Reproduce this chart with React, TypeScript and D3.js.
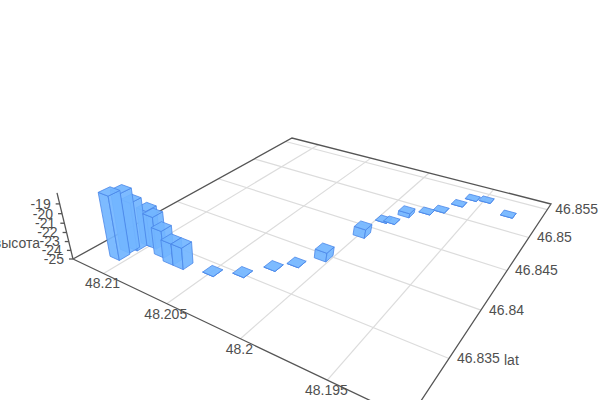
import React, { useEffect, useRef } from "react";
import * as d3 from "d3";

const barLon = [48.2107, 48.2108, 48.2106, 48.2103, 48.2098, 48.2087, 48.2077, 48.2069, 48.2050, 48.2035, 48.2024, 48.2015, 48.2005, 48.1999, 48.1996, 48.1991, 48.1987, 48.1977, 48.1970, 48.1963, 48.1958, 48.1949, 48.1930];
const barLat = [46.8321, 46.8331, 46.8336, 46.8345, 46.8345, 46.8340, 46.8337, 46.8337, 46.8342, 46.8352, 46.8369, 46.8381, 46.8397, 46.8438, 46.8466, 46.8468, 46.8483, 46.8496, 46.8505, 46.8522, 46.8537, 46.8540, 46.8526];
const barHeight = [-18.1, -18.5, -19.7, -21.0, -21.4, -22.0, -22.6, -22.6, -25, -25, -25, -25, -24, -24, -25, -25, -24.5, -25, -25, -25, -25, -25, -25];

const lonTicks = [48.21, 48.205, 48.2, 48.195];
const latTicks = [46.855, 46.85, 46.845, 46.84, 46.835];
const heightTicks = [-19, -20, -21, -22, -23, -24, -25];

const FONT = "'Liberation Sans', Arial, sans-serif";
const TEXT_COLOR = "#4f4f4f";

// floor corners on screen
const O = [73, 259];
const F = [409, 419];
const R = [551, 204];
const B = [292, 138];
// vertical vanishing point and its weight, so the height axis ends at (57,193)
const VP = [240, 950];
const K = -0.0874;

const sx = O[0] - F[0] + R[0] - B[0];
const sy = O[1] - F[1] + R[1] - B[1];
const dx1 = F[0] - R[0];
const dx2 = B[0] - R[0];
const dy1 = F[1] - R[1];
const dy2 = B[1] - R[1];
const det = dx1 * dy2 - dx2 * dy1;
const g = (sx * dy2 - dx2 * sy) / det;
const h = (dx1 * sy - sx * dy1) / det;
const a = F[0] - O[0] + g * F[0];
const b = B[0] - O[0] + h * B[0];
const d = F[1] - O[1] + g * F[1];
const e = B[1] - O[1] + h * B[1];

const lonScale = d3.scaleLinear().domain([48.2127, 48.191]).range([0, 1]);
const latScale = d3.scaleLinear().domain([46.83, 46.8561]).range([0, 1]);
const heightScale = d3.scaleLinear().domain([-25, -17.9]).range([0, 1]);

const project = (u: number, v: number, w = 0): [number, number] => {
    const wk = w * K;
    const q = g * u + h * v + 1 + wk;
    return [
        (a * u + b * v + O[0] + wk * VP[0]) / q,
        (d * u + e * v + O[1] + wk * VP[1]) / q
    ];
};

const SIZE_U = 0.037;
const SIZE_V = 0.036;

export default function App() {
    const ref = useRef<SVGSVGElement>(null);

    useEffect(() => {
        const svg = d3.select(ref.current);
        svg.selectAll("*").remove();

        const line = d3.line();

        // grid
        const grid = svg.append("g").attr("stroke", "#dcdcdc").attr("stroke-width", 1.2).attr("fill", "none");
        lonTicks.forEach(t => {
            const u = lonScale(t);
            grid.append("path").attr("d", line([project(u, 0), project(u, 1)]));
        });
        latTicks.forEach(t => {
            const v = latScale(t);
            grid.append("path").attr("d", line([project(0, v), project(1, v)]));
        });

        // axes
        const axis = svg.append("g").attr("stroke", "#555").attr("stroke-width", 1.3).attr("fill", "none");
        axis.append("path").attr("d", line([project(0, 0), project(1, 0), project(1, 1), project(0, 1), project(0, 0)]));
        axis.append("path").attr("d", line([project(0, 0), project(0, 0, 1)]));
        heightTicks.forEach(t => {
            const p = project(0, 0, heightScale(t));
            axis.append("path").attr("d", line([p, [p[0] - 4, p[1]]]));
        });

        // bars, back to front
        const order = d3.range(barLon.length).sort((i, j) =>
            (lonScale(barLon[i]) - latScale(barLat[i])) - (lonScale(barLon[j]) - latScale(barLat[j])));
        const bars = svg.append("g")
            .attr("fill", "#72b5ff")
            .attr("fill-opacity", 0.92)
            .attr("stroke", "#4a86e8")
            .attr("stroke-width", 0.8)
            .attr("stroke-linejoin", "round");
        order.forEach(i => {
            const u = lonScale(barLon[i]);
            const v = latScale(barLat[i]);
            const w = heightScale(barHeight[i]);
            const u0 = u - SIZE_U / 2;
            const u1 = u + SIZE_U / 2;
            const v0 = v - SIZE_V / 2;
            const v1 = v + SIZE_V / 2;
            const faces = [
                [project(u0, v0), project(u1, v0), project(u1, v0, w), project(u0, v0, w)],
                [project(u1, v0), project(u1, v1), project(u1, v1, w), project(u1, v0, w)],
                [project(u0, v0, w), project(u1, v0, w), project(u1, v1, w), project(u0, v1, w)]
            ];
            faces.forEach(f => {
                bars.append("path").attr("d", line(f) + "Z");
            });
        });

        // labels
        const labels = svg.append("g")
            .attr("font-family", FONT)
            .attr("font-size", 14)
            .attr("fill", TEXT_COLOR);
        lonTicks.forEach(t => {
            const p = project(lonScale(t), 0);
            labels.append("text")
                .attr("x", p[0] - 1)
                .attr("y", p[1] + 10)
                .attr("dy", "0.35em")
                .attr("text-anchor", "middle")
                .text(String(t));
        });
        latTicks.forEach(t => {
            const p = project(1, latScale(t));
            labels.append("text")
                .attr("x", p[0] + 8)
                .attr("y", p[1])
                .attr("dy", "0.35em")
                .text(String(t));
        });
        heightTicks.forEach(t => {
            const p = project(0, 0, heightScale(t));
            labels.append("text")
                .attr("x", p[0] - 9)
                .attr("y", p[1])
                .attr("dy", "0.35em")
                .attr("text-anchor", "end")
                .text(String(t));
        });
        labels.append("text").attr("x", 504).attr("y", 360).attr("dy", "0.35em").text("lat");
        labels.append("text").attr("x", 40).attr("y", 243).attr("dy", "0.35em").attr("text-anchor", "end").text("высота");
    }, []);

    return <svg ref={ref} width={600} height={400} style={{ position: "absolute", left: 0, top: 0 }} />;
}
